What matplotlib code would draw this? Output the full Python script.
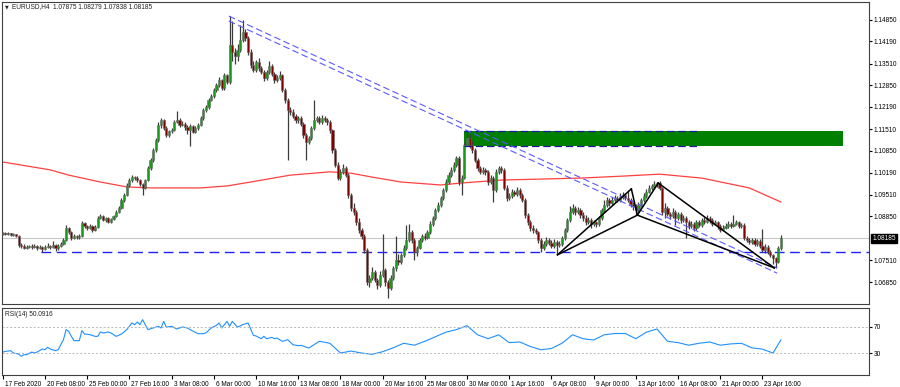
import numpy as np
import matplotlib.pyplot as plt
import matplotlib.transforms as mtransforms
from matplotlib.patches import Rectangle

plt.rcParams['font.family'] = ['Liberation Sans', 'DejaVu Sans']

# EURUSD H4 candles, prices in pips above 1.0000
close_pips = [
    834, 831, 834, 828, 831, 825, 798, 795, 789, 792,
    795, 792, 795, 789, 792, 786, 792, 795, 792, 798,
    789, 795, 801, 813, 850, 838, 819, 825, 822, 825,
    865, 856, 850, 856, 844, 853, 880, 886, 874, 880,
    868, 877, 886, 899, 911, 935, 950, 981, 996, 1005,
    1002, 996, 984, 972, 996, 1033, 1057, 1088, 1118, 1164,
    1179, 1155, 1133, 1146, 1149, 1173, 1179, 1164, 1167, 1158,
    1149, 1161, 1143, 1155, 1164, 1185, 1210, 1219, 1240, 1252,
    1271, 1286, 1301, 1277, 1316, 1295, 1408, 1387, 1374, 1393,
    1423, 1448, 1429, 1387, 1347, 1332, 1356, 1338, 1326, 1307,
    1326, 1344, 1319, 1301, 1307, 1316, 1271, 1240, 1210, 1204,
    1191, 1179, 1185, 1167, 1133, 1112, 1124, 1155, 1179, 1185,
    1173, 1185, 1179, 1173, 1149, 1088, 1042, 1002, 1021, 1033,
    1011, 950, 911, 899, 868, 844, 825, 783, 685, 697,
    716, 691, 676, 706, 722, 685, 667, 697, 728, 752,
    746, 767, 789, 813, 838, 813, 777, 789, 813, 825,
    819, 838, 862, 880, 905, 920, 941, 966, 990, 1011,
    1027, 1042, 1063, 990, 1002, 1103, 1124, 1103, 1088, 1057,
    1033, 1021, 1027, 1021, 990, 1002, 966, 1021, 1033, 1027,
    972, 941, 947, 960, 953, 966, 950, 935, 889, 868,
    850, 844, 838, 813, 789, 801, 813, 804, 795, 807,
    798, 801, 819, 844, 874, 899, 911, 899, 905, 889,
    880, 868, 874, 862, 868, 862, 880, 905, 920, 935,
    926, 935, 941, 935, 944, 950, 941, 935, 923, 917,
    905, 920, 935, 947, 960, 972, 978, 984, 987, 972,
    899, 911, 892, 886, 899, 880, 892, 874, 880, 868,
    856, 862, 850, 868, 859, 874, 868, 880, 874, 862,
    868, 856, 844, 850, 856, 862, 856, 862, 868, 856,
    859, 819, 813, 807, 813, 801, 810, 795, 783, 792,
    777, 767, 758, 746, 787.5, 818.5,
]
high_pips = [
    838, 837, 838, 836, 835, 833, 828, 803, 800, 797,
    799, 800, 801, 798, 797, 796, 797, 804, 799, 810,
    801, 800, 806, 818, 858, 853, 842, 830, 829, 832,
    870, 869, 860, 862, 858, 858, 886, 891, 889, 884,
    883, 881, 890, 904, 916, 940, 955, 987, 1002, 1010,
    1009, 1007, 1000, 988, 1000, 1038, 1062, 1094, 1124, 1172,
    1185, 1182, 1160, 1150, 1155, 1180, 1208, 1185, 1175, 1172,
    1163, 1166, 1165, 1160, 1170, 1190, 1216, 1226, 1246, 1258,
    1277, 1292, 1310, 1305, 1322, 1320, 1496, 1480, 1400, 1410,
    1470, 1484, 1458, 1435, 1395, 1360, 1362, 1368, 1345, 1332,
    1333, 1358, 1350, 1325, 1315, 1330, 1320, 1276, 1246, 1218,
    1212, 1198, 1192, 1190, 1172, 1138, 1130, 1160, 1240, 1192,
    1190, 1195, 1190, 1186, 1178, 1153, 1095, 1050, 1030, 1045,
    1040, 1016, 958, 925, 905, 880, 850, 830, 790, 705,
    730, 722, 698, 720, 830, 728, 690, 705, 735, 825,
    770, 775, 798, 860, 862, 845, 818, 795, 820, 832,
    835, 845, 870, 886, 912, 928, 948, 972, 998, 1020,
    1035, 1050, 1070, 1068, 1010, 1110, 1147, 1135, 1115, 1095,
    1062, 1040, 1035, 1032, 1026, 1010, 1008, 1030, 1040, 1038,
    1032, 980, 955, 968, 966, 975, 972, 955, 940, 895,
    875, 858, 850, 842, 818, 810, 822, 818, 812, 815,
    812, 810, 826, 850, 880, 918, 922, 918, 915, 910,
    898, 888, 882, 880, 875, 872, 885, 912, 935, 945,
    942, 945, 950, 948, 955, 960, 958, 965, 940, 930,
    922, 928, 942, 955, 968, 980, 985, 992, 990, 992,
    976, 925, 918, 900, 910, 905, 900, 898, 888, 885,
    875, 870, 868, 874, 875, 880, 882, 888, 885, 880,
    875, 872, 862, 858, 864, 870, 868, 888, 875, 872,
    866, 864, 826, 818, 820, 818, 816, 815, 848, 800,
    798, 782, 772, 762, 795, 827.9,
]
low_pips = [
    829, 828, 829, 825, 826, 821, 793, 790, 785, 786,
    788, 787, 789, 783, 786, 778, 782, 789, 786, 788,
    780, 784, 792, 798, 810, 833, 814, 815, 817, 816,
    821, 851, 845, 847, 838, 840, 850, 876, 870, 869,
    864, 864, 873, 882, 895, 907, 930, 946, 976, 990,
    996, 990, 979, 950, 968, 992, 1028, 1052, 1083, 1112,
    1155, 1150, 1128, 1127, 1140, 1145, 1170, 1158, 1160, 1150,
    1135, 1100, 1138, 1139, 1150, 1160, 1180, 1205, 1213, 1236,
    1246, 1266, 1280, 1270, 1272, 1288, 1290, 1360, 1350, 1360,
    1385, 1418, 1420, 1378, 1338, 1325, 1326, 1330, 1318, 1298,
    1300, 1320, 1312, 1292, 1296, 1302, 1264, 1232, 1057, 1195,
    1185, 1170, 1170, 1160, 1125, 1057, 1105, 1118, 1150, 1172,
    1166, 1168, 1172, 1165, 1140, 1080, 1035, 995, 996, 1015,
    1005, 940, 902, 890, 860, 836, 815, 775, 675, 670,
    690, 684, 665, 670, 700, 672, 636, 660, 690, 720,
    738, 740, 760, 783, 806, 805, 752, 765, 785, 808,
    812, 815, 832, 855, 875, 898, 915, 935, 960, 985,
    1005, 1020, 1036, 982, 950, 998, 1100, 1095, 1080, 1050,
    1025, 1015, 1015, 1012, 982, 985, 930, 960, 1015, 1018,
    965, 932, 935, 940, 946, 948, 942, 928, 880, 860,
    842, 836, 830, 805, 778, 784, 796, 798, 788, 790,
    770, 792, 796, 812, 838, 868, 892, 890, 892, 880,
    870, 860, 862, 850, 855, 853, 856, 875, 900, 915,
    918, 920, 928, 928, 930, 938, 935, 930, 915, 905,
    888, 898, 915, 930, 942, 955, 966, 972, 975, 965,
    890, 880, 885, 878, 880, 860, 875, 866, 868, 820,
    848, 850, 842, 845, 852, 854, 862, 864, 866, 855,
    858, 848, 838, 840, 846, 850, 850, 852, 858, 850,
    850, 812, 806, 800, 802, 795, 796, 790, 778, 775,
    770, 760, 740, 728, 742, 783.8,
]
first_open_pips = 833

# red moving average (bar index, pips)
ma_idx = [0, 18, 25, 37, 47, 56, 75, 85, 94, 109, 124, 132, 140, 151,
          166, 174, 189, 204, 219, 235, 249, 265, 283, 295]
ma_pips = [1051, 1027, 1011, 990, 975, 972, 972, 978, 990, 1011, 1021, 1017,
           1005, 990, 981, 987, 996, 999, 1002, 1008, 1014, 1002, 972, 929]

# RSI(14): bar index and value
rsi_idx = [0, 1, 3, 4, 6, 7, 8, 9, 11, 12, 13, 15, 16, 17, 18, 20, 21, 22,
           23, 24, 25, 26, 27, 29, 30, 31, 33, 35, 36, 37, 38, 40, 41, 43,
           45, 47, 49, 50, 51, 52, 53, 55, 57, 59, 60, 61, 62, 64, 66, 68,
           70, 71, 74, 76, 77, 79, 81, 82, 83, 85, 86, 87, 89, 91, 93, 95,
           96, 98, 99, 100, 102, 103, 104, 106, 108, 110, 112, 113,
           116, 120, 124, 128, 132, 136, 140, 144, 148, 152, 156, 160, 164,
           168, 172, 176, 180, 184, 188, 192, 196, 200, 204, 208, 212, 216,
           220, 224, 228, 232, 236, 240, 244, 248, 252, 256, 260, 264, 268,
           272, 276, 280, 284, 288, 292, 295]
rsi_vals = [31.5, 32.5, 33.6, 30, 28.4, 24.9, 27.4, 27.4, 31.5, 30, 31.5,
            36.1, 35.1, 38.7, 36.1, 33.6, 35.1, 42.8, 50.5, 65.9, 63.3, 55.6,
            49, 49, 64.4, 59.2, 58.2, 55.6, 55.6, 62.3, 60.8, 62.3, 60.8,
            55.6, 59.2, 65.9, 76.2, 73.6, 77.7, 73.6, 81.3, 65.9, 68.5, 71,
            68.5, 78.7, 69.8, 71, 66.9, 70, 68.5, 65.9, 59.7, 59.7, 60.8,
            68.5, 72.6, 76.2, 68.5, 78.7, 71, 78.7, 69.8, 73.6, 76.2, 57.2,
            56.2, 52, 55.6, 52, 54.1, 52, 53, 47.9, 50.5, 42.8, 41.3, 41.8,
            37.7, 48, 45, 30, 33, 30, 28, 32, 38, 45, 42, 48, 55, 62, 66, 72,
            58, 52, 58, 46, 47, 40, 35, 37, 45, 58, 52, 50, 58, 60, 60, 52,
            62, 67, 48, 46, 42, 45, 47, 42, 44, 45, 38, 36, 30, 50.09]

# drawing objects
support_level = 1.0777
zone_top, zone_bottom = 1.1146, 1.1100
channel_a = [(85.7, 1.1496), (293.6, 1.0728)]
channel_b = [(85.7, 1.1481), (293.6, 1.0712)]
pattern_x = [210.3, 238.3, 240.6, 248.5, 292.5]
pattern_y = [1.0768, 1.0969, 1.0889, 1.0987, 1.0728]

price_ticks = [1.14850, 1.14190, 1.13510, 1.12850, 1.12190, 1.11510, 1.10850,
               1.10190, 1.09510, 1.08850, 1.07510, 1.06850]
date_labels = ['17 Feb 2020', '20 Feb 08:00', '25 Feb 00:00', '27 Feb 16:00',
               '3 Mar 08:00', '6 Mar 00:00', '10 Mar 16:00', '13 Mar 08:00',
               '18 Mar 00:00', '20 Mar 16:00', '25 Mar 08:00', '30 Mar 00:00',
               '1 Apr 16:00', '6 Apr 08:00', '9 Apr 00:00', '13 Apr 16:00',
               '16 Apr 08:00', '21 Apr 00:00', '23 Apr 16:00']

c = 1 + np.array(close_pips) / 1e4
h = 1 + np.array(high_pips) / 1e4
l = 1 + np.array(low_pips) / 1e4
o = np.concatenate([[1 + first_open_pips / 1e4], c[:-1]])
x = np.arange(len(c))

fig = plt.figure(figsize=(9, 3.87), dpi=100)
ax = fig.add_axes([2 / 900, 83 / 387, 867 / 900, 302 / 387])
axr = fig.add_axes([2 / 900, 12 / 387, 867 / 900, 67 / 387])
fs = 4.7

# -----------------------------
# MAIN PRICE PANEL
# -----------------------------
ax.axhline(c[-1], color='#c8c8c8', lw=0.8, zorder=1)
ax.add_patch(Rectangle((174.7, zone_bottom), 318.6 - 174.7, zone_top - zone_bottom,
                       facecolor='#008000', edgecolor='none', zorder=1))
for yy in (zone_top, zone_bottom):
    ax.plot([174.7, 264.5], [yy, yy], color='#1a1aa0', lw=0.9, ls=(0, (6, 3)), zorder=4)
ax.plot(np.array(ma_idx), 1 + np.array(ma_pips) / 1e4, color='#ff4040', lw=0.9, zorder=1)
ax.plot([14.5, 330], [support_level, support_level], color='#2020ff', lw=1.0,
        ls=(0, (7, 4)), zorder=1)

up = c >= o
ax.vlines(x, l, h, color='#3c3c3c', lw=0.9, zorder=2)
ax.bar(x[up], (c - o)[up], bottom=o[up], width=0.82, color='#1a9a1a',
       edgecolor='#6a6a6a', lw=0.4, zorder=3)
ax.bar(x[~up], (o - c)[~up], bottom=c[~up], width=0.82, color='#800000',
       edgecolor='#6a6a6a', lw=0.4, zorder=3)

for ch in (channel_a, channel_b):
    ax.plot([ch[0][0], ch[1][0]], [ch[0][1], ch[1][1]], color='#5a5aff', lw=0.8,
            ls=(0, (6, 3)), zorder=4)

# harmonic pattern
pts = list(zip(pattern_x, pattern_y))
for a, b in [(0, 1), (1, 2), (2, 3), (3, 4), (0, 2), (2, 4)]:
    ax.plot([pts[a][0], pts[b][0]], [pts[a][1], pts[b][1]], color='black', lw=1.1, zorder=5)

ax.set_xlim(-0.3, 328.4)
ax.set_ylim(1.0618, 1.1539)
ax.set_xticks([])
ax.yaxis.tick_right()
ax.set_yticks(price_ticks)
ax.set_yticklabels(['%.5f' % p for p in price_ticks])
ax.tick_params(axis='y', labelsize=fs, length=2, pad=1.5, colors='black')
for s in ax.spines.values():
    s.set_color('#404040')
    s.set_linewidth(0.8)

trans = mtransforms.blended_transform_factory(ax.transAxes, ax.transData)
ax.text(1.004, c[-1], '1.08185', transform=trans, fontsize=fs, color='white',
        va='center', ha='left',
        bbox=dict(boxstyle='square,pad=0.15', facecolor='black', edgecolor='black'))
fig.text(5 / 900, 1 - 7 / 387, '\u25bc', fontsize=3.5, va='center', ha='left',
         color='#202020', family='DejaVu Sans')
fig.text(12 / 900, 1 - 7 / 387, 'EURUSD,H4  1.07875 1.08279 1.07838 1.08185',
         fontsize=fs, va='center', ha='left', color='#202020')

# -----------------------------
# RSI PANEL
# -----------------------------
axr.plot(rsi_idx, rsi_vals, color='#1e90ff', lw=0.8)
for lev in (70, 30):
    axr.axhline(lev, color='#b8b8b8', lw=0.7, ls=(0, (2, 2)))
axr.set_xlim(-0.3, 328.4)
axr.set_ylim(-3.8, 99.2)
axr.yaxis.tick_right()
axr.set_yticks([70, 30])
axr.tick_params(axis='y', labelsize=fs, length=2, pad=1.5)
axr.set_xticks(np.arange(0, 289, 16))
axr.set_xticklabels(date_labels, ha='left')
axr.tick_params(axis='x', labelsize=fs, length=3, pad=1.5)
offset = mtransforms.ScaledTranslation(2 / 100, 0, fig.dpi_scale_trans)
for lab in axr.get_xticklabels():
    lab.set_transform(lab.get_transform() + offset)
for s in axr.spines.values():
    s.set_color('#404040')
    s.set_linewidth(0.8)
axr.text(0.004, 0.9, 'RSI(14) 50.0916', transform=axr.transAxes, fontsize=fs,
         va='center', ha='left', color='#202020')

fig.savefig('out.png', dpi=100)
